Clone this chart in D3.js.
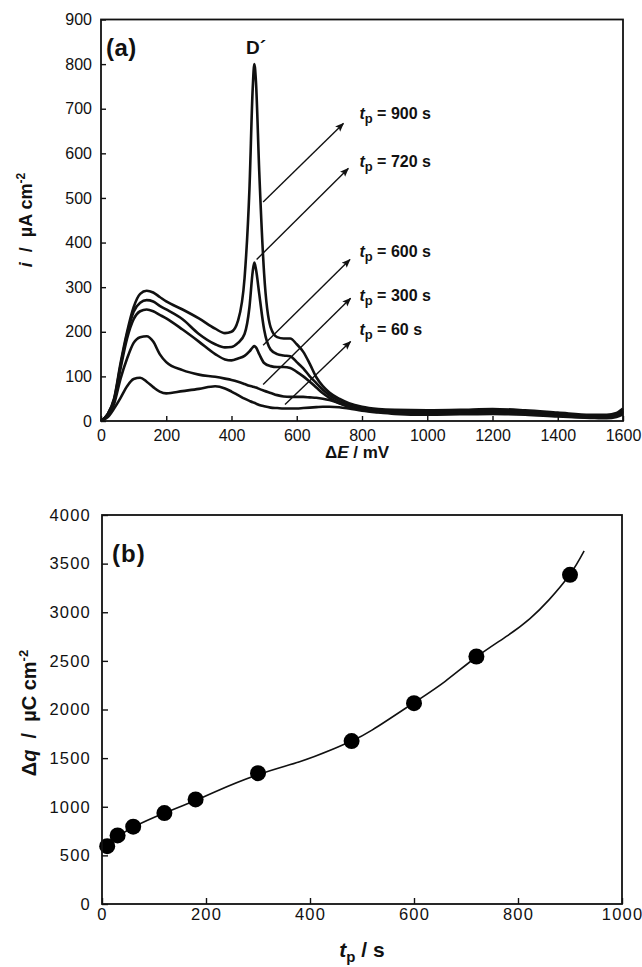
<!DOCTYPE html>
<html>
<head>
<meta charset="utf-8">
<script src="https://cdn.jsdelivr.net/npm/d3@7/dist/d3.min.js"></script>
<style>
  html, body { margin: 0; padding: 0; background: #fff; }
  svg { display: block; font-family: "Liberation Sans", Arial, sans-serif; }
  text { fill: #111; white-space: pre; }
</style>
</head>
<body>
<svg id="fig" width="642" height="967"></svg>
<script>
// ---- Panel (a): voltammograms after different polarisation times ----
const potential = [0, 20, 40, 60, 80, 100, 120, 140, 160, 180, 200, 250, 300, 350, 380, 400, 420, 440, 455, 465, 470, 475, 485, 500, 520, 540, 560, 580, 600, 620, 640, 660, 680, 700, 730, 760, 800, 850, 900, 1000, 1100, 1200, 1300, 1400, 1500, 1550, 1580, 1600];

const current900 = [0, 15, 50, 130, 200, 255, 285, 292, 288, 278, 268, 250, 230, 207, 197, 200, 225, 320, 520, 745, 800, 760, 560, 330, 210, 188, 185, 185, 172, 155, 128, 98, 78, 64, 50, 40, 32, 27, 25, 24, 25, 27, 24, 19, 14, 14, 18, 28];
const current720 = [0, 15, 48, 125, 195, 245, 265, 271, 268, 258, 250, 228, 195, 172, 165, 166, 175, 195, 255, 335, 355, 340, 285, 205, 160, 150, 147, 145, 132, 118, 100, 85, 70, 58, 45, 36, 29, 24, 22, 21, 22, 24, 21, 16, 12, 12, 15, 24];
const current600 = [0, 14, 45, 118, 185, 228, 246, 250, 246, 238, 230, 205, 178, 150, 138, 136, 140, 146, 156, 165, 168, 165, 150, 130, 123, 121, 121, 119, 110, 100, 88, 75, 62, 52, 40, 32, 26, 22, 20, 19, 20, 22, 19, 14, 10, 10, 13, 21];
const current300 = [0, 12, 38, 95, 140, 175, 188, 190, 178, 150, 132, 114, 104, 99, 95, 92, 88, 83, 79, 77, 76, 75, 72, 68, 63, 58, 55, 54, 54, 54, 53, 52, 50, 47, 40, 33, 26, 20, 18, 16, 17, 19, 16, 12, 8, 8, 11, 18];
const current60  = [0, 8, 28, 52, 78, 94, 97, 88, 76, 66, 62, 67, 72, 78, 73, 66, 58, 50, 45, 42, 41, 39, 36, 33, 30, 29, 28, 28, 28, 29, 30, 31, 32, 32, 31, 28, 23, 19, 16, 14, 15, 16, 14, 10, 7, 6, 9, 15];

const seriesA = [current900, current720, current600, current300, current60];
const timeLabels = ["900", "720", "600", "300", "60"];

// annotation arrows (tail -> head, in mV / µA cm-2) and label anchors
const arrowTail = [[497, 491], [477, 362], [497, 170], [497, 82], [564, 37]];
const arrowHead = [[743, 667], [758, 566], [763, 362], [765, 275], [765, 178]];
const labelAt   = [[792, 678], [792, 570], [792, 368], [792, 270], [792, 193]];

const xTicksA = [0, 200, 400, 600, 800, 1000, 1200, 1400, 1600];
const yTicksA = [0, 100, 200, 300, 400, 500, 600, 700, 800, 900];

// ---- Panel (b): charge vs. polarisation time ----
const tp = [10, 30, 60, 120, 180, 300, 480, 600, 720, 900];
const dq = [595, 705, 795, 935, 1075, 1345, 1675, 2065, 2545, 3385];
const fitT = [10, 30, 60, 120, 180, 220, 300, 380, 440, 480, 520, 600, 660, 720, 780, 823, 860, 900, 927];
const fitQ = [600, 690, 790, 935, 1065, 1160, 1330, 1463, 1583, 1676, 1790, 2070, 2290, 2540, 2760, 2935, 3130, 3390, 3630];

const xTicksB = [0, 200, 400, 600, 800, 1000];
const yTicksB = [0, 500, 1000, 1500, 2000, 2500, 3000, 3500, 4000];

const plain = d3.format("d");
const svg = d3.select("#fig");

svg.append("defs").append("marker")
  .attr("id", "head")
  .attr("viewBox", "0 0 10 10")
  .attr("refX", 9).attr("refY", 5)
  .attr("markerWidth", 9).attr("markerHeight", 9)
  .attr("markerUnits", "userSpaceOnUse")
  .attr("orient", "auto")
  .append("path").attr("d", "M0,1 L10,5 L0,9 L2,5 z").attr("fill", "#111");

function frame(g, x, y) {
  const [x0, x1] = x.range(), [y0, y1] = y.range();
  g.append("rect")
    .attr("x", x0).attr("y", y1)
    .attr("width", x1 - x0).attr("height", y0 - y1)
    .attr("fill", "none").attr("stroke", "#111").attr("stroke-width", 1.8);
}

function styleAxis(g, size, spacing) {
  g.select(".domain").remove();
  g.selectAll(".tick line").attr("stroke", "#111").attr("stroke-width", 1.4);
  g.selectAll(".tick text")
    .attr("fill", "#000")
    .style("font-family", "'Liberation Sans', Arial, sans-serif")
    .style("font-size", size + "px")
    .style("letter-spacing", spacing + "px");
}

// ---------- Panel (a) ----------
const xA = d3.scaleLinear().domain([0, 1600]).range([101, 623]);
const yA = d3.scaleLinear().domain([0, 900]).range([421, 19.5]);
const gA = svg.append("g");

gA.append("g").attr("transform", `translate(0,${yA(0)})`)
  .call(d3.axisBottom(xA).tickValues(xTicksA).tickFormat(plain).tickSizeInner(-5).tickSizeOuter(0).tickPadding(9))
  .call(g => styleAxis(g, 16, 0));
gA.append("g").attr("transform", `translate(${xA(0)},0)`)
  .call(d3.axisLeft(yA).tickValues(yTicksA).tickFormat(plain).tickSizeInner(-5).tickSizeOuter(0).tickPadding(9))
  .call(g => styleAxis(g, 16, 0));

const lineA = d3.line()
  .x((d, k) => xA(potential[k]))
  .y(d => yA(d))
  .curve(d3.curveMonotoneX);

gA.selectAll("path.cv").data(seriesA).join("path")
  .attr("class", "cv")
  .attr("d", lineA)
  .attr("fill", "none").attr("stroke", "#111")
  .attr("stroke-width", 2.6).attr("stroke-linejoin", "round");

gA.selectAll("line.arrow").data(arrowTail).join("line")
  .attr("class", "arrow")
  .attr("x1", d => xA(d[0])).attr("y1", d => yA(d[1]))
  .attr("x2", (d, k) => xA(arrowHead[k][0])).attr("y2", (d, k) => yA(arrowHead[k][1]))
  .attr("stroke", "#111").attr("stroke-width", 1.4)
  .attr("marker-end", "url(#head)");

const labs = gA.selectAll("text.tp").data(timeLabels).join("text")
  .attr("class", "tp")
  .attr("x", (d, k) => xA(labelAt[k][0]))
  .attr("y", (d, k) => yA(labelAt[k][1]))
  .style("font-size", "16px").style("font-weight", "bold");
labs.append("tspan").text("t").style("font-style", "italic");
labs.append("tspan").text("p").attr("dy", 4).style("font-size", "13px");
labs.append("tspan").text(d => " = " + d + " s").attr("dy", -4);

frame(gA, xA, yA);

gA.append("text").attr("x", 106).attr("y", 56)
  .text("(a)").style("font-size", "24px").style("font-weight", "bold").style("letter-spacing", "0.5px");
gA.append("text").attr("x", 246).attr("y", 54)
  .text("D´").style("font-size", "19px").style("font-weight", "bold");

const xtA = gA.append("text").attr("x", 357).attr("y", 458)
  .attr("text-anchor", "middle").style("font-size", "17px").style("font-weight", "bold");
xtA.append("tspan").text("Δ");
xtA.append("tspan").text("E").style("font-style", "italic");
xtA.append("tspan").text(" / mV");

const ytA = gA.append("text")
  .attr("transform", "translate(32,220) rotate(-90)")
  .attr("text-anchor", "middle").style("font-size", "18px").style("font-weight", "bold");
ytA.append("tspan").text("i").style("font-style", "italic");
ytA.append("tspan").text("  /  µA cm");
ytA.append("tspan").text("-2").attr("dy", -7).style("font-size", "12px");

// ---------- Panel (b) ----------
const xB = d3.scaleLinear().domain([0, 1000]).range([102, 622]);
const yB = d3.scaleLinear().domain([0, 4000]).range([904, 515]);
const gB = svg.append("g");

gB.append("g").attr("transform", `translate(0,${yB(0)})`)
  .call(d3.axisBottom(xB).tickValues(xTicksB).tickFormat(plain).tickSizeInner(-6).tickSizeOuter(0).tickPadding(4))
  .call(g => styleAxis(g, 16.5, 1.2));
gB.append("g").attr("transform", `translate(${xB(0)},0)`)
  .call(d3.axisLeft(yB).tickValues(yTicksB).tickFormat(plain).tickSizeInner(-6).tickSizeOuter(0).tickPadding(11))
  .call(g => styleAxis(g, 16.5, 1.2));

gB.append("path")
  .datum(fitT)
  .attr("d", d3.line().x(d => xB(d)).y((d, k) => yB(fitQ[k])).curve(d3.curveNatural))
  .attr("fill", "none").attr("stroke", "#111").attr("stroke-width", 1.6);

gB.selectAll("circle").data(tp).join("circle")
  .attr("cx", d => xB(d)).attr("cy", (d, k) => yB(dq[k]))
  .attr("r", 8).attr("fill", "#000");

frame(gB, xB, yB);

gB.append("text").attr("x", 112).attr("y", 562)
  .text("(b)").style("font-size", "24px").style("font-weight", "bold").style("letter-spacing", "1px");

const xtB = gB.append("text").attr("x", 362).attr("y", 957)
  .attr("text-anchor", "middle").style("font-size", "21px").style("font-weight", "bold");
xtB.append("tspan").text("t").style("font-style", "italic");
xtB.append("tspan").text("p").attr("dy", 5).style("font-size", "15px");
xtB.append("tspan").text(" / s").attr("dy", -5);

const ytB = gB.append("text")
  .attr("transform", "translate(36,713) rotate(-90)")
  .attr("text-anchor", "middle").style("font-size", "20px").style("font-weight", "bold");
ytB.append("tspan").text("Δ");
ytB.append("tspan").text("q").style("font-style", "italic");
ytB.append("tspan").text("  /  µC cm");
ytB.append("tspan").text("-2").attr("dy", -8).style("font-size", "13px");
</script>
</body>
</html>
